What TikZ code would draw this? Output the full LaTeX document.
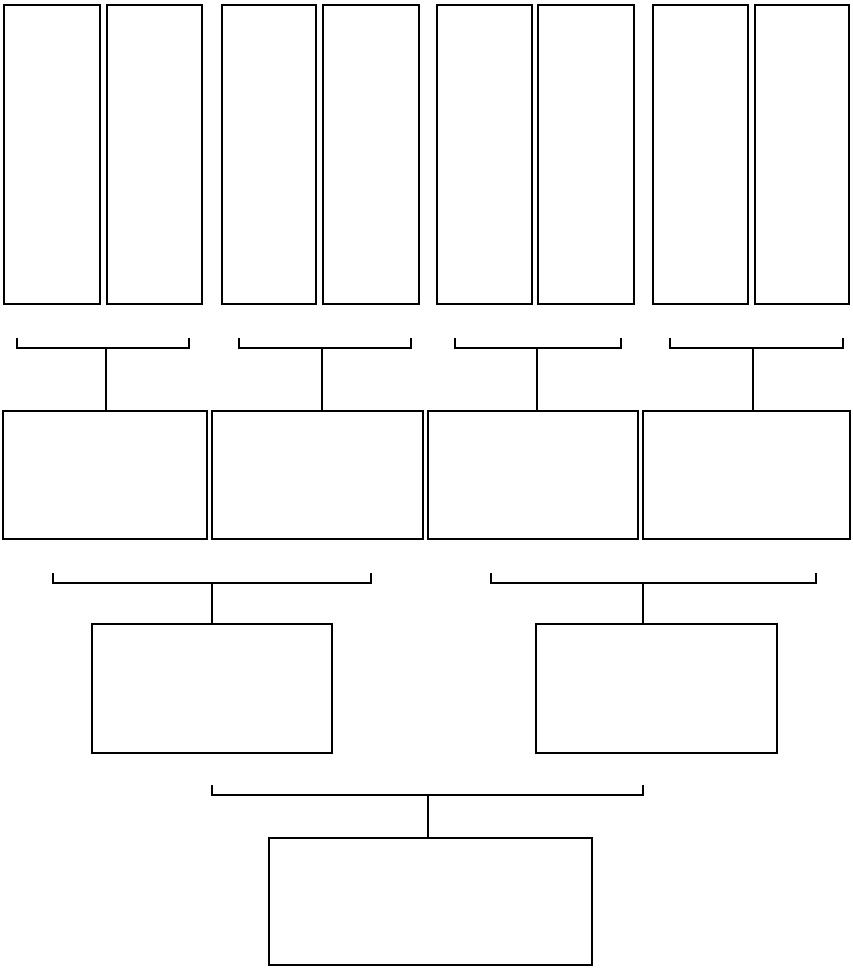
\documentclass[tikz,border=0pt]{standalone}
\usetikzlibrary{positioning, calc}

\tikzset{
  box/.style={draw, line width=0.9pt, inner sep=0pt, outer sep=0pt, anchor=north west},
  link/.style={draw, line width=0.9pt},
}

\begin{document}
\begin{tikzpicture}[x=0.2mm, y=-0.2mm]
  \useasboundingbox (0,0) rectangle (853,968);

  % First round: eight tall boxes
  \foreach \n/\l/\r in {1/4/100, 2/107/202, 3/222/316, 4/323/419,
                        5/437/532, 6/538/634, 7/653/748, 8/755/849}{
    \pgfmathsetmacro\w{(\r-\l)*0.2}
    \node[box, minimum width=\w mm, minimum height=59.8mm] (t\n) at (\l,5) {};
  }

  % Second round: four boxes
  \foreach \n/\l/\r in {1/3/207, 2/212/423, 3/428/638, 4/643/850}{
    \pgfmathsetmacro\w{(\r-\l)*0.2}
    \node[box, minimum width=\w mm, minimum height=25.6mm] (r\n) at (\l,411) {};
  }

  % Third round: two boxes
  \node[box, minimum width=48mm, minimum height=25.8mm] (s1) at (92,624) {};
  \node[box, minimum width=48.2mm, minimum height=25.8mm] (s2) at (536,624) {};

  % Final box
  \node[box, minimum width=64.6mm, minimum height=25.4mm] (f) at (269,838) {};

  % Brackets first -> second round
  \foreach \n/\l/\r/\s in {1/17/189/106, 2/239/411/322, 3/455/621/537, 4/670/843/753}{
    \coordinate (a\n) at (\l,348);
    \coordinate (b\n) at (\r,348);
    \coordinate (m\n) at (\s,348);
    \draw[link] (a\n) ++(0,-10) -- (a\n) -- (b\n) -- ++(0,-10);
    \draw[link] (m\n) -- (m\n |- r\n.north);
  }

  % Brackets second -> third round
  \foreach \n/\l/\r/\s in {1/53/371/212, 2/491/816/643}{
    \coordinate (c\n) at (\l,583);
    \coordinate (d\n) at (\r,583);
    \coordinate (k\n) at (\s,583);
    \draw[link] (c\n) ++(0,-10) -- (c\n) -- (d\n) -- ++(0,-10);
    \draw[link] (k\n) -- (k\n |- s\n.north);
  }

  % Bracket third round -> final
  \coordinate (e1) at (212,795);
  \coordinate (e2) at (643,795);
  \coordinate (em) at (428,795);
  \draw[link] (e1) ++(0,-10) -- (e1) -- (e2) -- ++(0,-10);
  \draw[link] (em) -- (em |- f.north);
\end{tikzpicture}
\end{document}
